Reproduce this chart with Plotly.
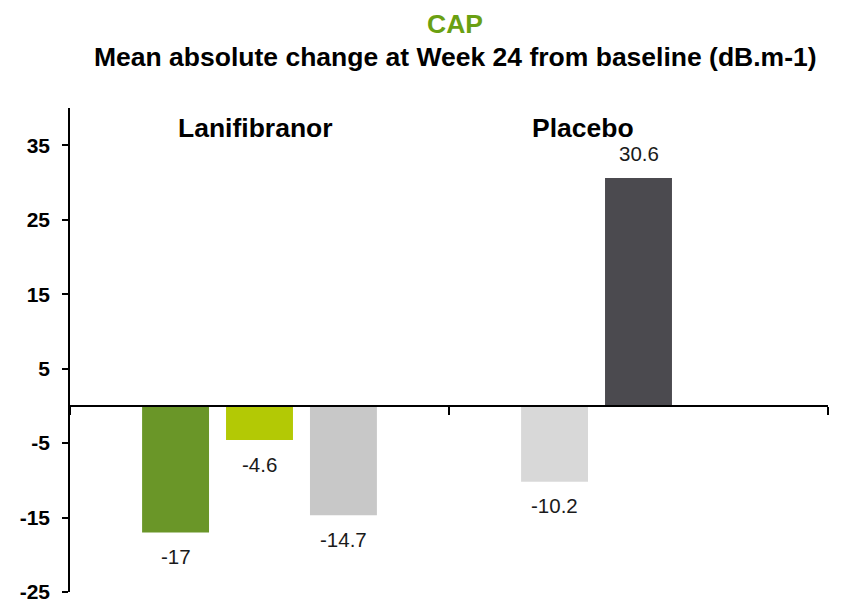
import plotly.graph_objects as go

# Mean absolute change in CAP at Week 24 from baseline (dB.m-1)
GROUPS = ["Lanifibranor", "Placebo"]
LANI_VALUES = [-17, -4.6, -14.7]
LANI_COLORS = ["#6A9628", "#B3C905", "#C8C8C8"]
PLACEBO_VALUES = [-10.2, 30.6]
PLACEBO_COLORS = ["#D8D8D8", "#4B4A4F"]
Y_TICKS = [-25, -15, -5, 5, 15, 25, 35]
Y_TICK_TEXT = ["-25", "-15", "-5", "5", "15", "25", "35"]

FONT = "Liberation Sans, Arial, sans-serif"
W, H = 843, 605
M_L, M_R, M_T, M_B = 70, 15, 108, 13
Y_RANGE = [-25, 40]

SLOT = 0.2215      # distance between neighbouring bars, in category units
BAR_W = 0.1766     # bar width, in category units

group_values = [LANI_VALUES, PLACEBO_VALUES]
group_colors = [LANI_COLORS, PLACEBO_COLORS]

xs, ys, cols = [], [], []
for gi, (vals, colors) in enumerate(zip(group_values, group_colors)):
    for si, (v, c) in enumerate(zip(vals, colors)):
        xs.append(gi + (si - 1) * SLOT)
        ys.append(v)
        cols.append(c)

fig = go.Figure()
fig.add_trace(go.Bar(
    x=xs, y=ys, width=BAR_W,
    marker=dict(color=cols, line=dict(width=0)),
    hoverinfo="skip",
))

# value labels just beyond the end of each bar
for x, v in zip(xs, ys):
    fig.add_annotation(
        x=x, y=v, xref="x", yref="y",
        text=f"{v:g}", showarrow=False,
        xanchor="center", yanchor="middle", yshift=24 if v > 0 else -24,
        font=dict(family=FONT, size=20.5, color="#1A1A1A"),
    )

plot_h = H - M_T - M_B
plot_w = W - M_L - M_R


def paper_y(px):
    return (H - M_B - px) / plot_h


def paper_x(px):
    return (px - M_L) / plot_w


# group headings
for name, cx in zip(GROUPS, [255, 583]):
    fig.add_annotation(
        x=paper_x(cx), y=paper_y(128), xref="paper", yref="paper",
        text=f"<b>{name}</b>", showarrow=False,
        xanchor="center", yanchor="middle",
        font=dict(family=FONT, size=26.5, color="#000000"),
    )

# titles
fig.add_annotation(
    x=paper_x(455), y=paper_y(24), xref="paper", yref="paper",
    text="<b>CAP</b>", showarrow=False, xanchor="center", yanchor="middle",
    font=dict(family=FONT, size=26.5, color="#6AA012"),
)
fig.add_annotation(
    x=paper_x(455), y=paper_y(57), xref="paper", yref="paper",
    text="<b>Mean absolute change at Week 24 from baseline (dB.m-1)</b>",
    showarrow=False, xanchor="center", yanchor="middle",
    font=dict(family=FONT, size=26.5, color="#000000"),
)

zero_pos = (0 - Y_RANGE[0]) / (Y_RANGE[1] - Y_RANGE[0])

fig.update_layout(
    width=W, height=H,
    margin=dict(l=M_L, r=M_R, t=M_T, b=M_B, autoexpand=False),
    paper_bgcolor="white", plot_bgcolor="white",
    showlegend=False,
    xaxis=dict(
        range=[-0.5, 1.5], anchor="free", position=zero_pos,
        showline=True, linecolor="#000000", linewidth=1.6,
        ticks="outside", ticklen=8, tickwidth=1.6, tickcolor="#000000",
        tickvals=[-0.5, 0.5, 1.5], showticklabels=False,
        showgrid=False, zeroline=False, fixedrange=True, automargin=False,
    ),
    yaxis=dict(
        range=Y_RANGE, tickvals=Y_TICKS, ticktext=Y_TICK_TEXT,
        showline=True, linecolor="#000000", linewidth=1.6,
        ticks="outside", ticklen=6, tickwidth=1.6, tickcolor="#000000",
        tickfont=dict(family=FONT, size=21, color="#000000", weight="bold"),
        ticklabelstandoff=8,
        showgrid=False, zeroline=False, fixedrange=True, automargin=False,
    ),
)

fig.write_html("out.html")
